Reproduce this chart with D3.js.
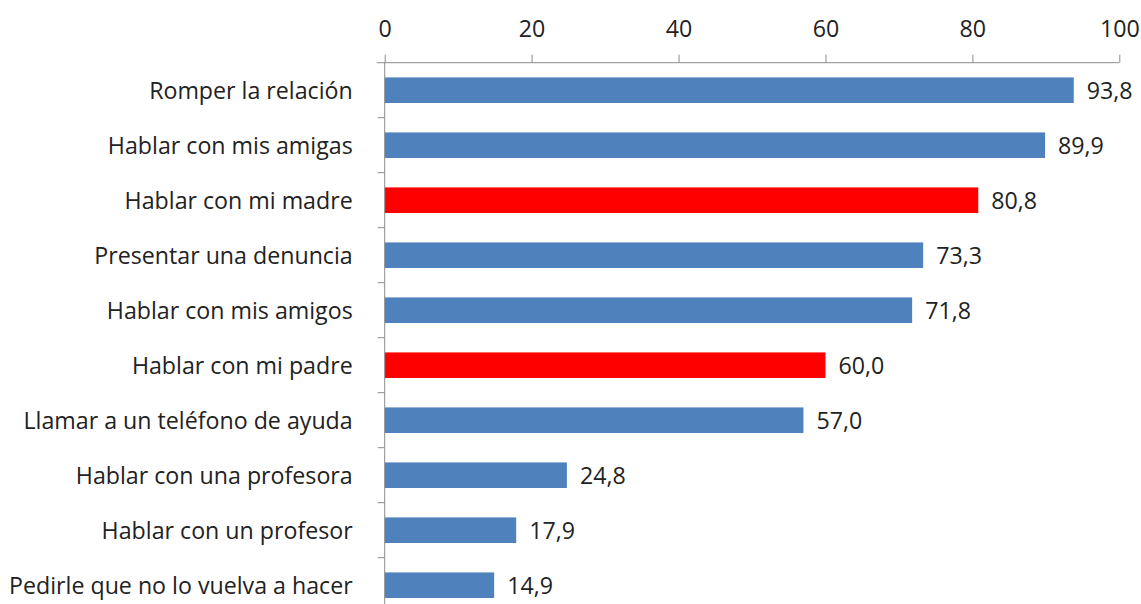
<!DOCTYPE html>
<html>
<head>
<meta charset="utf-8">
<script src="https://cdn.jsdelivr.net/npm/d3@7"></script>
<style>
  html, body { margin: 0; padding: 0; background: #fff; }
  svg { display: block; }
</style>
</head>
<body>
<svg id="chart" width="1141" height="604"></svg>
<script>
// Responses, ordered from most to least frequent
const categories = [
  "Romper la relación",
  "Hablar con mis amigas",
  "Hablar con mi madre",
  "Presentar una denuncia",
  "Hablar con mis amigos",
  "Hablar con mi padre",
  "Llamar a un teléfono de ayuda",
  "Hablar con una profesora",
  "Hablar con un profesor",
  "Pedirle que no lo vuelva a hacer"
];
const values = [93.8, 89.9, 80.8, 73.3, 71.8, 60.0, 57.0, 24.8, 17.9, 14.9];
const highlighted = ["Hablar con mi madre", "Hablar con mi padre"];
const xTicks = [0, 20, 40, 60, 80, 100];

const data = categories.map((c, i) => ({ category: c, value: values[i] }));

const svg = d3.select("#chart");
const plot = { left: 384.7, right: 1119.3, top: 62.7, bottom: 612.7 };
const font = "'Open Sans', Lato, sans-serif";
const fontSize = 23.2;
const axisColor = "#8c8c8c";
const textColor = "#222";

const x = d3.scaleLinear().domain([0, 100]).range([plot.left, plot.right]);
const y = d3.scaleBand().domain(categories).range([plot.top, plot.bottom])
  .paddingInner(0.535).paddingOuter(0.2675);

// Bars
svg.append("g").selectAll("rect").data(data).join("rect")
  .attr("x", x(0))
  .attr("y", d => y(d.category))
  .attr("width", d => x(d.value) - x(0))
  .attr("height", y.bandwidth())
  .attr("fill", d => highlighted.includes(d.category) ? "#ff0000" : "#4f81bd");

// Value labels
svg.append("g").selectAll("text").data(data).join("text")
  .attr("x", d => x(d.value) + 13)
  .attr("y", d => y(d.category) + y.bandwidth() / 2)
  .attr("dy", "0.36em")
  .attr("font-family", font)
  .attr("font-size", fontSize)
  .attr("fill", textColor)
  .text(d => d3.format(".1f")(d.value).replace(".", ","));

// Top value axis
const xAxis = svg.append("g")
  .attr("transform", `translate(0,${plot.top})`)
  .call(d3.axisTop(x).tickValues(xTicks).tickSize(8).tickPadding(18).tickSizeOuter(0));
xAxis.select(".domain").attr("stroke", axisColor).attr("d", `M${plot.left - 8},0H${plot.right}`);
xAxis.selectAll(".tick line").attr("stroke", axisColor);
xAxis.selectAll(".tick text")
  .attr("font-family", font).attr("font-size", fontSize).attr("fill", textColor);

// Category axis with tick marks between categories
const yAxis = svg.append("g").attr("transform", `translate(${plot.left},0)`);
yAxis.append("line")
  .attr("x1", 0).attr("x2", 0).attr("y1", plot.top).attr("y2", plot.bottom)
  .attr("stroke", axisColor);
const step = y.step();
const boundaries = d3.range(1, categories.length).map(i => plot.top + i * step);
yAxis.selectAll("line.sep").data(boundaries).join("line")
  .attr("class", "sep")
  .attr("x1", -7).attr("x2", 0)
  .attr("y1", d => d).attr("y2", d => d)
  .attr("stroke", axisColor);
yAxis.selectAll("text").data(categories).join("text")
  .attr("x", -32)
  .attr("y", d => y(d) + y.bandwidth() / 2)
  .attr("dy", "0.36em")
  .attr("text-anchor", "end")
  .attr("font-family", font)
  .attr("font-size", fontSize)
  .attr("fill", textColor)
  .text(d => d);
</script>
</body>
</html>
